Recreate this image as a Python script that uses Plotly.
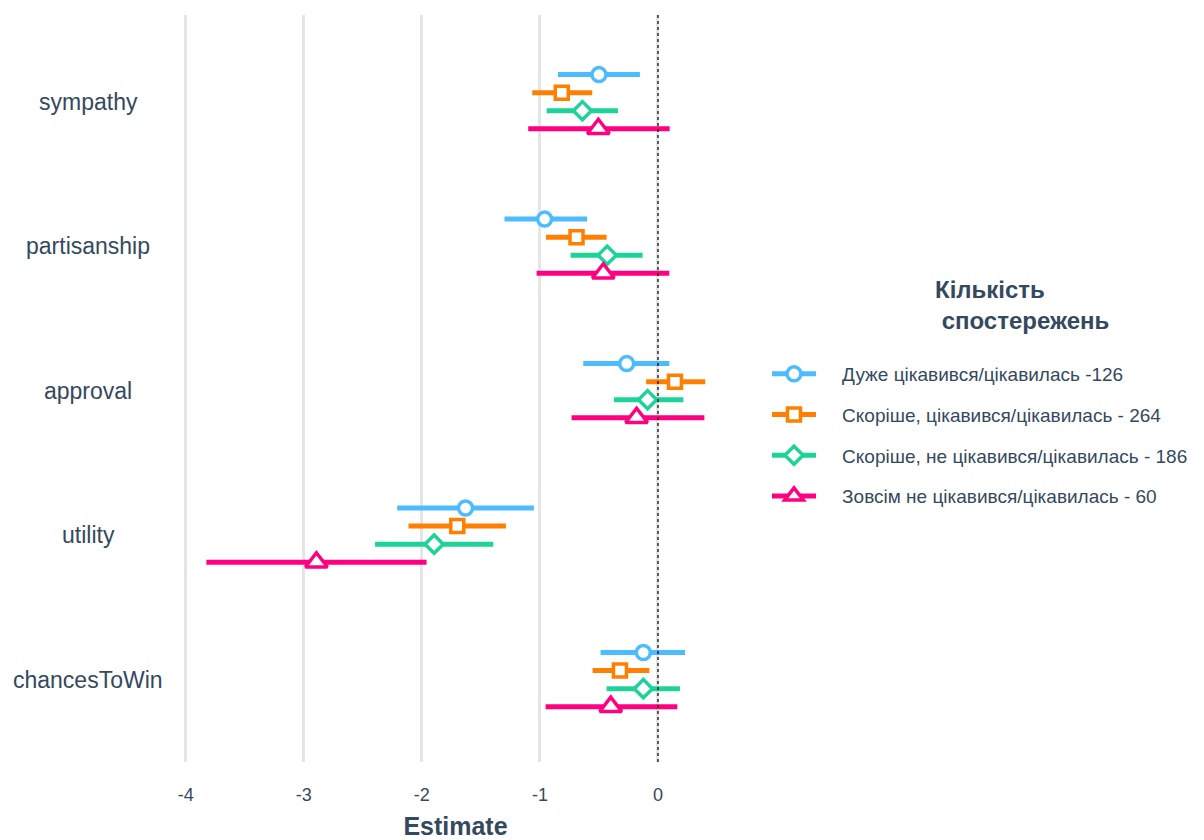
import plotly.graph_objects as go

categories = ["sympathy", "partisanship", "approval", "utility", "chancesToWin"]
series_names = [
    "Дуже цікавився/цікавилась -126",
    "Скоріше, цікавився/цікавилась - 264",
    "Скоріше, не цікавився/цікавилась - 186",
    "Зовсім не цікавився/цікавилась - 60",
]
colors = ["#4DBBFF", "#FF7F00", "#1DD39A", "#FF0080"]
symbols = ["circle", "square", "diamond", "triangle-up"]
marker_sizes = [14, 13, 14, 19]

# estimates per series, in category order
est_blue = [-0.50, -0.96, -0.265, -1.63, -0.124]
est_orange = [-0.815, -0.69, 0.144, -1.70, -0.322]
est_green = [-0.64, -0.43, -0.088, -1.896, -0.124]
est_pink = [-0.505, -0.463, -0.181, -2.893, -0.40]

lo_blue = [-0.847, -1.30, -0.633, -2.209, -0.486]
lo_orange = [-1.065, -0.949, -0.10, -2.113, -0.554]
lo_green = [-0.943, -0.74, -0.373, -2.396, -0.435]
lo_pink = [-1.099, -1.028, -0.732, -3.825, -0.952]

hi_blue = [-0.153, -0.60, 0.096, -1.051, 0.229]
hi_orange = [-0.557, -0.435, 0.40, -1.288, -0.073]
hi_green = [-0.339, -0.13, 0.215, -1.395, 0.186]
hi_pink = [0.099, 0.096, 0.393, -1.96, 0.164]

x_ticks = [-4, -3, -2, -1, 0]

estimates = [est_blue, est_orange, est_green, est_pink]
lows = [lo_blue, lo_orange, lo_green, lo_pink]
highs = [hi_blue, hi_orange, hi_green, hi_pink]
dodge = [0.1875, 0.0625, -0.0625, -0.1875]

n = len(categories)
base = [n - 1 - i for i in range(n)]

fig = go.Figure()

# whiskers
for s in range(4):
    xs, ys = [], []
    for i in range(n):
        y = base[i] + dodge[s]
        xs += [lows[s][i], highs[s][i], None]
        ys += [y, y, None]
    fig.add_trace(go.Scatter(x=xs, y=ys, mode="lines",
                             line=dict(color=colors[s], width=5),
                             showlegend=False, hoverinfo="skip",
                             legendgroup=str(s)))

# points
pad = "\u00a0" * 4
for s in range(4):
    xs, ys = [], []
    for i in range(n):
        xs += [estimates[s][i], None]
        ys += [base[i] + dodge[s], None]
    fig.add_trace(go.Scatter(
        x=xs, y=ys, mode="lines+markers", connectgaps=False,
        name=pad + series_names[s], legendgroup=str(s),
        line=dict(color=colors[s], width=5),
        marker=dict(symbol=symbols[s], size=marker_sizes[s], color="white",
                    line=dict(color=colors[s], width=3.5)),
    ))

text_color = "#34495E"
plot_left = 181  # screen px of plot area left edge
plot_w = 549
plot_top = 15
plot_h = 747

for i, c in enumerate(categories):
    fig.add_annotation(text=c, x=(88 - plot_left) / plot_w, xref="paper", y=base[i], yref="y",
                       xanchor="center", yanchor="middle", showarrow=False,
                       font=dict(size=23, color=text_color, family="Liberation Sans, Arial"))

fig.add_annotation(text="<b>Кількість</b><br><b> спостережень</b>",
                   x=(933 - plot_left) / plot_w, xref="paper",
                   y=1 - (274 - plot_top) / plot_h, yref="paper", xanchor="left", yanchor="top",
                   align="left", showarrow=False,
                   font=dict(size=24, color=text_color, family="Liberation Sans, Arial"))

fig.add_shape(type="line", x0=0, x1=0, xref="x", y0=0, y1=1, yref="paper",
              line=dict(color="black", width=1.2, dash="dot"), layer="above")

fig.update_layout(
    width=1196, height=832,
    margin=dict(l=173, r=474, t=7, b=78),
    paper_bgcolor="white", plot_bgcolor="white",
    font=dict(family="Liberation Sans, Arial", color=text_color),
    xaxis=dict(range=[-4.04, 0.61], tickvals=x_ticks, ticktext=[str(t) for t in x_ticks],
               showgrid=True, gridcolor="#E5E5E5", gridwidth=3, zeroline=False,
               showline=False, ticks="outside", ticklen=16, tickcolor="rgba(0,0,0,0)",
               automargin=False,
               tickfont=dict(size=18, color=text_color),
               title=dict(text="<b>Estimate</b>", font=dict(size=25, color=text_color), standoff=15)),
    yaxis=dict(range=[-0.57, 4.6], showgrid=False, zeroline=False, showticklabels=False,
               showline=False, automargin=False),
    legend=dict(x=(767 - plot_left) / plot_w, xanchor="left", y=1 - (355 - plot_top) / plot_h,
                yanchor="top",
                bgcolor="rgba(0,0,0,0)", font=dict(size=19, color=text_color),
                itemwidth=44, tracegroupgap=13, traceorder="grouped"),
)

fig.write_html("out.html")
